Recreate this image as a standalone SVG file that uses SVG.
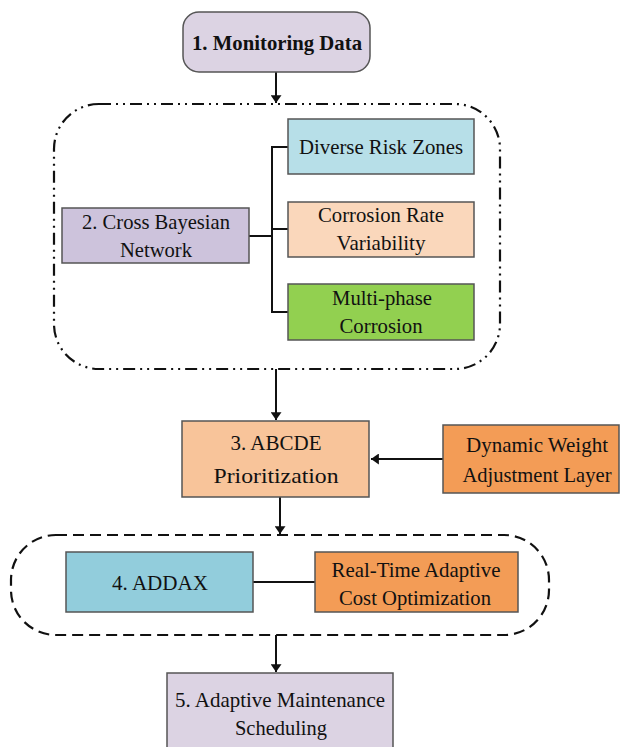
<svg xmlns="http://www.w3.org/2000/svg" width="628" height="747" viewBox="0 0 628 747">
<style>
text{font-family:"Liberation Serif","Times New Roman",serif;fill:#111;text-anchor:middle;font-size:22px}
.box{stroke:#555;stroke-width:1.5}
.ln{stroke:#111;stroke-width:2;fill:none}
</style>
<defs>
<marker id="ahb" viewBox="0 0 10 14" refX="10" refY="7" markerWidth="14" markerHeight="11" markerUnits="userSpaceOnUse" orient="auto"><path d="M0,0 L10,7 L0,14 Z" fill="#111"/></marker>
</defs>
<rect width="628" height="747" fill="#fff"/>
<g id="container-bn"><rect x="54" y="104" width="446" height="265" rx="45" fill="none" stroke="#111" stroke-width="2.2" stroke-dasharray="12,5,2,5,2,5"/></g>
<g id="container-addax"><rect x="11" y="535" width="538" height="100" rx="45" fill="none" stroke="#111" stroke-width="2.2" stroke-dasharray="11,6"/></g>
<g id="connectors">
<line class="ln" x1="276" y1="72" x2="276" y2="103" marker-end="url(#ahb)"/>
<polyline class="ln" points="249,236 272,236"/>
<polyline class="ln" points="288,147 272,147 272,312 288,312"/>
<line class="ln" x1="272" y1="229" x2="288" y2="229"/>
<line class="ln" x1="276" y1="369" x2="276" y2="420" marker-end="url(#ahb)"/>
<line class="ln" x1="443" y1="459" x2="371" y2="459" marker-end="url(#ahb)"/>
<line class="ln" x1="280" y1="497" x2="280" y2="534" marker-end="url(#ahb)"/>
<line class="ln" x1="253" y1="582" x2="315" y2="582"/>
<line class="ln" x1="276" y1="635" x2="276" y2="672" marker-end="url(#ahb)"/>
</g>
<g id="n1"><rect class="box" x="183" y="12" width="187" height="60" rx="16" fill="#dcd3e3" stroke="#444"/><text x="277" y="50" font-weight="bold" font-size="25" textLength="170" lengthAdjust="spacingAndGlyphs">1. Monitoring Data</text></g>
<g id="n2"><rect class="box" x="62" y="208" width="187" height="55" fill="#cdc3dc"/><text x="156" y="229" textLength="148" lengthAdjust="spacingAndGlyphs">2. Cross Bayesian</text><text x="156" y="257" textLength="72" lengthAdjust="spacingAndGlyphs">Network</text></g>
<g id="nA"><rect class="box" x="288" y="119" width="186" height="55" fill="#b7dfe8"/><text x="381" y="154" textLength="164" lengthAdjust="spacingAndGlyphs">Diverse Risk Zones</text></g>
<g id="nB"><rect class="box" x="288" y="202" width="186" height="55" fill="#fad7bb"/><text x="381" y="222" textLength="126" lengthAdjust="spacingAndGlyphs">Corrosion Rate</text><text x="381" y="250" textLength="89" lengthAdjust="spacingAndGlyphs">Variability</text></g>
<g id="nC"><rect class="box" x="288" y="284" width="186" height="56" fill="#92d050"/><text x="382" y="305" textLength="100" lengthAdjust="spacingAndGlyphs">Multi-phase</text><text x="381" y="333" textLength="83" lengthAdjust="spacingAndGlyphs">Corrosion</text></g>
<g id="n3"><rect class="box" x="182" y="421" width="187" height="76" fill="#f8c49a"/><text x="276" y="450" textLength="91" lengthAdjust="spacingAndGlyphs">3. ABCDE</text><text x="276" y="483" font-size="26" textLength="125" lengthAdjust="spacingAndGlyphs">Prioritization</text></g>
<g id="nD"><rect class="box" x="443" y="425" width="176" height="68" fill="#f39c56"/><text x="537" y="452" textLength="142" lengthAdjust="spacingAndGlyphs">Dynamic Weight</text><text x="537" y="482" textLength="149" lengthAdjust="spacingAndGlyphs">Adjustment Layer</text></g>
<g id="n4"><rect class="box" x="66" y="552" width="187" height="60" fill="#92cddc"/><text x="160" y="590" textLength="96" lengthAdjust="spacingAndGlyphs">4. ADDAX</text></g>
<g id="nE"><rect class="box" x="315" y="552" width="203" height="60" fill="#f39c56"/><text x="416" y="577" textLength="169" lengthAdjust="spacingAndGlyphs">Real-Time Adaptive</text><text x="415" y="605" textLength="152" lengthAdjust="spacingAndGlyphs">Cost Optimization</text></g>
<g id="n5"><rect class="box" x="167" y="673" width="226" height="80" fill="#dcd3e3"/><text x="280" y="707" textLength="210" lengthAdjust="spacingAndGlyphs">5. Adaptive Maintenance</text><text x="281" y="735" textLength="92" lengthAdjust="spacingAndGlyphs">Scheduling</text></g>
</svg>
